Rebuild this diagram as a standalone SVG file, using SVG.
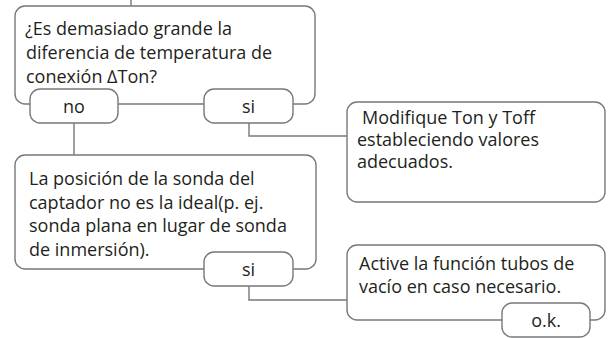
<svg xmlns="http://www.w3.org/2000/svg" width="608" height="338" viewBox="0 0 608 338">
<style>
.box{fill:#fff;stroke:#77787b;stroke-width:1.4}
.pill{fill:#fff;stroke:#77787b;stroke-width:1.4}
.ln{fill:none;stroke:#77787b;stroke-width:1.4}
text{font-family:"Open Sans","DejaVu Sans",sans-serif;font-size:18px;fill:#231f20}
.c{text-anchor:middle}
</style>
<rect width="608" height="338" fill="#fff"/>
<g id="connectors">
<path class="ln" d="M131,0 V6"/>
<path class="ln" d="M74,123 V155"/>
<path class="ln" d="M249,123 V136 H347"/>
<path class="ln" d="M249,286 V300 H347"/>
</g>
<g id="q1">
<rect class="box" x="15" y="6" width="300" height="98" rx="10"/>
<text x="25" y="35">¿Es demasiado grande la</text>
<text x="26" y="59">diferencia de temperatura de</text>
<text x="26" y="83">conexión ∆Ton?</text>
</g>
<g id="q1-no">
<rect class="pill" x="30" y="89" width="88" height="34" rx="10"/>
<text class="c" x="74" y="113">no</text>
</g>
<g id="q1-si">
<rect class="pill" x="204" y="89" width="89" height="34" rx="10"/>
<text class="c" x="248.5" y="113">si</text>
</g>
<g id="a1">
<rect class="box" x="347" y="102" width="258" height="100" rx="10"/>
<text x="362" y="124">Modifique Ton y Toff</text>
<text x="357" y="146">estableciendo valores</text>
<text x="357" y="168">adecuados.</text>
</g>
<g id="q2">
<rect class="box" x="15" y="155" width="301" height="114" rx="10"/>
<text x="29" y="185">La posición de la sonda del</text>
<text x="29" y="208.5">captador no es la ideal(p. ej.</text>
<text x="29" y="232">sonda plana en lugar de sonda</text>
<text x="29" y="255.5">de inmersión).</text>
</g>
<g id="q2-si">
<rect class="pill" x="204" y="252" width="89" height="34" rx="10"/>
<text class="c" x="248.5" y="276">si</text>
</g>
<g id="a2">
<rect class="box" x="347" y="245" width="258" height="75" rx="10"/>
<text x="359" y="270">Active la función tubos de</text>
<text x="359" y="293">vacío en caso necesario.</text>
</g>
<g id="a2-ok">
<rect class="pill" x="502" y="303" width="88" height="34" rx="10"/>
<text class="c" x="546" y="327">o.k.</text>
</g>
</svg>
